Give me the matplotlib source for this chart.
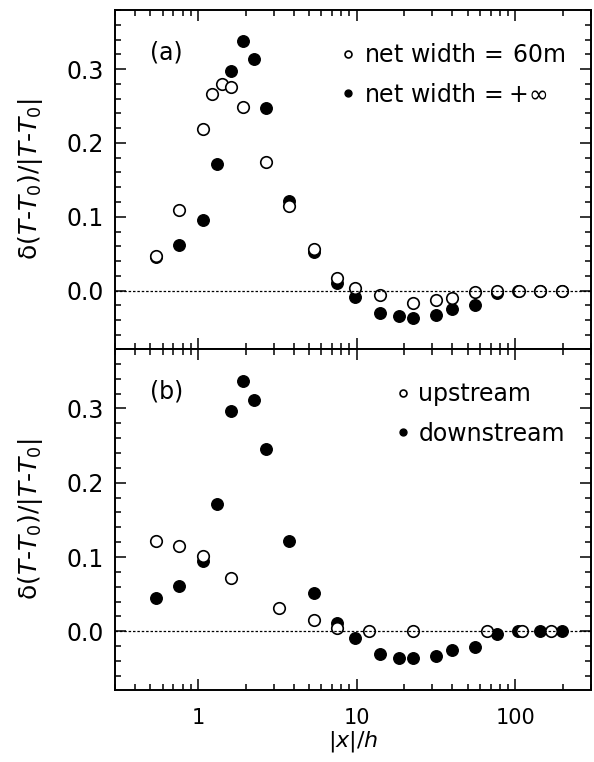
import numpy as np
import matplotlib
matplotlib.use("Agg")
import matplotlib.pyplot as plt
import matplotlib.ticker as mticker

plt.rcParams["font.family"] = ["DejaVu Sans"]
plt.rcParams["mathtext.fontset"] = "dejavusans"

# panel (a): net width = 60 m (open) and net width = +inf (filled)
x_open_a = [0.54, 0.764, 1.075, 1.23, 1.416, 1.62, 1.92, 2.69, 3.77, 5.42, 7.53,
            9.77, 14.1, 22.8, 31.6, 40, 55.6, 76.7, 105, 144, 197]
y_open_a = [0.0465, 0.109, 0.2185, 0.2667, 0.280, 0.276, 0.249, 0.174, 0.115, 0.057,
            0.0176, 0.004, -0.006, -0.0166, -0.013, -0.0099, -0.002, 0.0, 0.0, 0.0, 0.0]

x_fill_a = [0.54, 0.764, 1.075, 1.32, 1.62, 1.92, 2.27, 2.69, 3.77, 5.42, 7.53,
            9.77, 14.1, 18.5, 22.8, 31.6, 40, 55.6, 76.7, 104, 144, 197]
y_fill_a = [0.045, 0.0615, 0.095, 0.1716, 0.298, 0.338, 0.313, 0.247, 0.122, 0.053,
            0.011, -0.009, -0.030, -0.035, -0.037, -0.033, -0.025, -0.020, -0.003,
            0.0, 0.0, 0.0]

# panel (b): upstream (open) and downstream (filled)
x_up = [0.54, 0.764, 1.075, 1.62, 3.25, 5.42, 7.53, 11.97, 22.8, 66.4, 110.7, 168]
y_up = [0.1217, 0.115, 0.101, 0.0718, 0.032, 0.0148, 0.0045, 0.0, 0.0, 0.0, 0.0, 0.0]

x_down = [0.54, 0.764, 1.075, 1.32, 1.62, 1.92, 2.27, 2.69, 3.77, 5.42, 7.53,
          9.77, 14.1, 18.5, 22.8, 31.6, 40, 55.6, 76.7, 104, 144, 197]
y_down = [0.0454, 0.061, 0.094, 0.1716, 0.2965, 0.337, 0.312, 0.245, 0.121, 0.052,
          0.011, -0.0085, -0.031, -0.0355, -0.036, -0.0337, -0.0256, -0.021, -0.003,
          0.0, 0.0, 0.0]

panels = [
    ("(a)", x_open_a, y_open_a, "net width$\\,=\\,$60m",
     x_fill_a, y_fill_a, "net width$\\,=+\\infty$"),
    ("(b)", x_up, y_up, "upstream", x_down, y_down, "downstream"),
]

ylab = r"$\mathrm{\delta}(T$-$T_0)/|T$-$T_0|$"

fig = plt.figure(figsize=(5.94, 7.62), dpi=100)
ax_top = fig.add_axes([0.1936, 0.542, 0.8014, 0.4449])
ax_bot = fig.add_axes([0.1936, 0.0945, 0.8014, 0.4475], sharex=ax_top)

for ax, (tag, xo, yo, lo, xf, yf, lf) in zip([ax_top, ax_bot], panels):
    ax.plot(xf, yf, "o", ms=8.3, mfc="black", mec="black", mew=1.0, ls="none",
            label=lf, zorder=3)
    ax.plot(xo, yo, "o", ms=8.3, mfc="white", mec="black", mew=1.2, ls="none",
            label=lo, zorder=4)
    ax.axhline(0, color="black", lw=0.9, ls=(0, (2, 1.5)), zorder=5)

    ax.set_xscale("log")
    ax.set_xlim(0.3, 300)
    ax.set_ylim(-0.079, 0.38)
    ax.yaxis.set_major_locator(mticker.MultipleLocator(0.1))
    ax.yaxis.set_minor_locator(mticker.MultipleLocator(0.02))
    ax.yaxis.set_major_formatter(mticker.FormatStrFormatter("%.1f"))
    ax.xaxis.set_major_locator(mticker.LogLocator(base=10))
    ax.xaxis.set_minor_locator(mticker.LogLocator(base=10, subs=np.arange(2, 10)))
    ax.xaxis.set_minor_formatter(mticker.NullFormatter())
    ax.xaxis.set_major_formatter(mticker.FuncFormatter(lambda v, _: f"{v:g}"))
    ax.tick_params(which="both", direction="in", top=True, right=True, width=1.1)
    ax.tick_params(which="major", length=8)
    ax.tick_params(which="minor", length=4.5)
    ax.tick_params(axis="y", labelsize=17, pad=8)
    ax.tick_params(axis="x", labelsize=15, pad=13)
    for s in ax.spines.values():
        s.set_linewidth(1.4)

    ax.set_ylabel(ylab, fontsize=18)
    ax.yaxis.set_label_coords(-0.148, 0.5)
    ax.text(0.074, 0.876, tag, transform=ax.transAxes, fontsize=17,
            ha="left", va="center")

    handles, labels = ax.get_legend_handles_labels()
    ax.legend(handles[::-1], labels[::-1], loc="upper right",
              bbox_to_anchor=(0.965, 0.93), borderaxespad=0, frameon=False,
              fontsize=17, handlelength=0.5, handletextpad=0.4,
              labelspacing=0.65, markerscale=0.6)

ax_top.tick_params(labelbottom=False)
ax_bot.set_xlabel(r"|$x$|/$h$", fontsize=16, labelpad=1)

fig.savefig("out.png", dpi=100)
